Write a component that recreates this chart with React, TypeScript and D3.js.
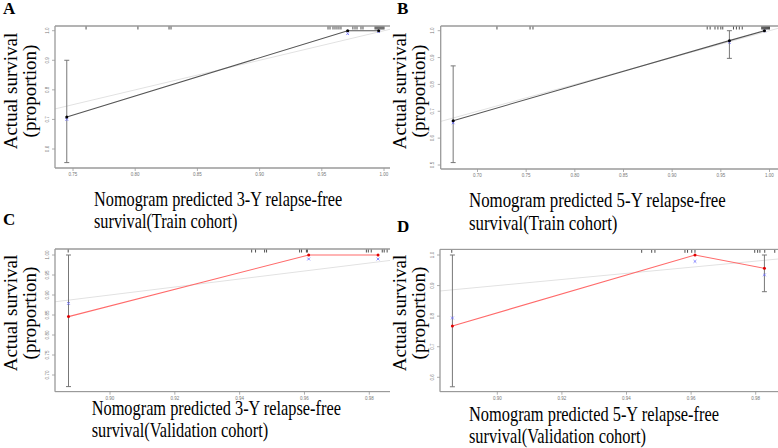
import React from "react";
import * as d3 from "d3";

// ---------- Data ----------
// Panel A: 3-Y, Train cohort
const aPred = [0.745, 0.9708, 0.9957];
const aObs = [0.708, 1.0, 1.0];
const aCorr = [0.7, 0.99, 0.997];
const aLower = [0.554, 1.0, 1.0];
const aUpper = [0.9, 1.0, 1.0];
const aRug = [0.7605, 0.8022, 0.8272, 0.8288, 0.955, 0.9566, 0.959, 0.9606, 0.9622, 0.9638, 0.9654, 0.975, 0.9767, 0.9783, 0.9815, 0.9831, 0.9928, 0.9936, 0.9944, 0.9952, 0.996, 0.9968, 0.9976, 0.9984, 0.9992, 1.0];
const aXTicks = [0.75, 0.8, 0.85, 0.9, 0.95, 1.0];
const aYTicks = [0.6, 0.7, 0.8, 0.9, 1.0];

// Panel B: 5-Y, Train cohort
const bPred = [0.675, 0.9588, 0.9948];
const bObs = [0.665, 0.963, 1.0];
const bCorr = [0.657, 0.957, 0.999];
const bLower = [0.509, 0.897, 1.0];
const bUpper = [0.869, 1.0, 1.0];
const bRug = [0.72, 0.754, 0.757, 0.936, 0.939, 0.944, 0.947, 0.95, 0.952, 0.963, 0.966, 0.969, 0.972, 0.992, 0.993, 0.994, 0.995, 0.996, 0.997, 0.998, 0.999, 1.0];
const bXTicks = [0.7, 0.75, 0.8, 0.85, 0.9, 0.95, 1.0];
const bYTicks = [0.5, 0.6, 0.7, 0.8, 0.9, 1.0];

// Panel C: 3-Y, Validation cohort
const cPred = [0.8872, 0.9613, 0.9827];
const cObs = [0.846, 1.0, 1.0];
const cCorr = [0.879, 0.99, 0.99];
const cLower = [0.671, 1.0, 1.0];
const cUpper = [1.0, 1.0, 1.0];
const cRug = [0.8871, 0.9437, 0.9449, 0.9477, 0.9483, 0.9585, 0.9591, 0.9606, 0.9609, 0.9791, 0.9797, 0.9806, 0.984, 0.9846, 0.9855];
const cXTicks = [0.9, 0.92, 0.94, 0.96, 0.98];
const cYTicks = [0.7, 0.75, 0.8, 0.85, 0.9, 0.95, 1.0];

// Panel D: 5-Y, Validation cohort
const dPred = [0.8861, 0.9612, 0.9827];
const dObs = [0.768, 1.0, 0.9565];
const dCorr = [0.794, 0.979, 0.935];
const dLower = [0.569, 1.0, 0.88];
const dUpper = [1.0, 1.0, 1.0];
const dRug = [0.8859, 0.9447, 0.9478, 0.9488, 0.9581, 0.9589, 0.9602, 0.9612, 0.9797, 0.9806, 0.9813, 0.9828, 0.9859];
const dXTicks = [0.9, 0.92, 0.94, 0.96, 0.98];
const dYTicks = [0.6, 0.7, 0.8, 0.9, 1.0];

const panelLetters = ["A", "B", "C", "D"];
const xTitleLine1 = ["Nomogram predicted 3-Y relapse-free", "Nomogram predicted 5-Y relapse-free", "Nomogram predicted 3-Y relapse-free", "Nomogram predicted 5-Y relapse-free"];
const xTitleLine2 = ["survival(Train cohort)", "survival(Train cohort)", "survival(Validation cohort)", "survival(Validation cohort)"];
const yTitleLine1 = "Actual survival";
const yTitleLine2 = "(proportion)";

// ---------- Layout ----------
type Layout = {
  left: number; top: number; bottom: number; clipRight: number;
  xPx: [number, number]; yPx: [number, number];
  letterX: number; letterY: number;
  titleX: number; titleY: number; titleScale: number;
  yTitleX: number; yTitleCy: number;
  lineColor: string; pointColor: string;
};

const layouts: Layout[] = [
  { left: 55, top: 26, bottom: 168, clipRight: 390, xPx: [73, 384], yPx: [149, 30.7], letterX: 3, letterY: 14, titleX: 94, titleY: 206, titleScale: 0.814, yTitleX: 17, yTitleCy: 91, lineColor: "#555", pointColor: "#000" },
  { left: 440.7, top: 26, bottom: 169, clipRight: 778, xPx: [477.5, 769.5], yPx: [165, 30.7], letterX: 397, letterY: 14, titleX: 469, titleY: 207.3, titleScale: 0.842, yTitleX: 406, yTitleCy: 91, lineColor: "#555", pointColor: "#000" },
  { left: 55, top: 249, bottom: 391.7, clipRight: 390, xPx: [110, 369.3], yPx: [375, 255], letterX: 3, letterY: 225, titleX: 91.7, titleY: 415, titleScale: 0.817, yTitleX: 17, yTitleCy: 313, lineColor: "#ff6b6b", pointColor: "#e00000" },
  { left: 440, top: 249.3, bottom: 391.7, clipRight: 778, xPx: [497.3, 755.7], yPx: [377.3, 255], letterX: 397, letterY: 232, titleX: 469, titleY: 421, titleScale: 0.82, yTitleX: 406, yTitleCy: 313, lineColor: "#ff6b6b", pointColor: "#e00000" },
];

const panelData = [
  { pred: aPred, obs: aObs, corr: aCorr, lower: aLower, upper: aUpper, rug: aRug, xTicks: aXTicks, yTicks: aYTicks, xFmt: ".2f", yFmt: ".1f" },
  { pred: bPred, obs: bObs, corr: bCorr, lower: bLower, upper: bUpper, rug: bRug, xTicks: bXTicks, yTicks: bYTicks, xFmt: ".2f", yFmt: ".1f" },
  { pred: cPred, obs: cObs, corr: cCorr, lower: cLower, upper: cUpper, rug: cRug, xTicks: cXTicks, yTicks: cYTicks, xFmt: ".2f", yFmt: ".2f" },
  { pred: dPred, obs: dObs, corr: dCorr, lower: dLower, upper: dUpper, rug: dRug, xTicks: dXTicks, yTicks: dYTicks, xFmt: ".2f", yFmt: ".1f" },
];

const SERIF = "'Liberation Serif', 'Times New Roman', 'DejaVu Serif', serif";
const SANS = "'Liberation Sans', Arial, sans-serif";

function Panel({ i }: { i: number }) {
  const L = layouts[i];
  const D = panelData[i];
  const x = d3.scaleLinear().domain([D.xTicks[0], D.xTicks[D.xTicks.length - 1]]).range(L.xPx);
  const y = d3.scaleLinear().domain([D.yTicks[0], D.yTicks[D.yTicks.length - 1]]).range(L.yPx);
  const xf = d3.format(D.xFmt);
  const yf = d3.format(D.yFmt);
  const clipId = `clip${i}`;
  const right = L.clipRight + 20;

  const obsLine = d3.line<number>().x((_, k) => x(D.pred[k])).y((v) => y(v))(D.obs) || "";
  const xLo = x.invert(L.left);
  const xHi = x.invert(right);
  const ideal = d3.line<number>().x((v) => x(v)).y((v) => y(v))([xLo, xHi]) || "";

  return (
    <g>
      <defs>
        <clipPath id={clipId}>
          <rect x={L.left - 0.5} y={L.top - 1} width={L.clipRight - L.left + 0.5} height={L.bottom - L.top + 2} />
        </clipPath>
      </defs>
      <g clipPath={`url(#${clipId})`}>
        <path d={ideal} stroke="#e2e2e2" strokeWidth={1} fill="none" />
        {D.pred.map((p, k) =>
          D.upper[k] - D.lower[k] > 0.001 ? (
            <g key={`e${k}`} stroke="#777" strokeWidth={1}>
              <line x1={x(p)} x2={x(p)} y1={y(D.upper[k])} y2={y(D.lower[k])} />
              <line x1={x(p) - 2.5} x2={x(p) + 2.5} y1={y(D.upper[k])} y2={y(D.upper[k])} />
              <line x1={x(p) - 2.5} x2={x(p) + 2.5} y1={y(D.lower[k])} y2={y(D.lower[k])} />
            </g>
          ) : null
        )}
        <path d={obsLine} stroke={L.lineColor} strokeWidth={1.1} fill="none" />
        {D.pred.map((p, k) => (
          <g key={`c${k}`} stroke="#6b6bff" strokeWidth={0.8}>
            <line x1={x(p) - 1.4} x2={x(p) + 1.4} y1={y(D.corr[k]) - 1.4} y2={y(D.corr[k]) + 1.4} />
            <line x1={x(p) - 1.4} x2={x(p) + 1.4} y1={y(D.corr[k]) + 1.4} y2={y(D.corr[k]) - 1.4} />
          </g>
        ))}
        {D.pred.map((p, k) => (
          <circle key={`p${k}`} cx={x(p)} cy={y(D.obs[k])} r={1.5} fill={L.pointColor} />
        ))}
        {D.rug.map((r, k) => (
          <line key={`r${k}`} x1={x(r)} x2={x(r)} y1={L.top} y2={L.top + 3.5} stroke="#222" strokeWidth={0.8} />
        ))}
        <line x1={L.left} x2={right} y1={L.top} y2={L.top} stroke="#9a9a9a" strokeWidth={1.3} />
        <line x1={L.left} x2={right} y1={L.bottom} y2={L.bottom} stroke="#9a9a9a" strokeWidth={1.3} />
      </g>
      <line x1={L.left} x2={L.left} y1={L.top} y2={L.bottom} stroke="#9a9a9a" strokeWidth={1.3} />
      {D.yTicks.map((t) => (
        <g key={`yt${t}`}>
          <line x1={L.left - 3} x2={L.left} y1={y(t)} y2={y(t)} stroke="#999" strokeWidth={0.8} />
          <text transform={`translate(${L.left - 6.5},${y(t)}) rotate(-90)`} textAnchor="middle" fontSize={4.5} fill="#777" fontFamily={SANS}>{yf(t)}</text>
        </g>
      ))}
      {D.xTicks.map((t) => (
        <g key={`xt${t}`}>
          <line x1={x(t)} x2={x(t)} y1={L.bottom} y2={L.bottom + 3} stroke="#999" strokeWidth={0.8} />
          <text x={x(t)} y={L.bottom + 8} textAnchor="middle" fontSize={4.5} fill="#777" fontFamily={SANS}>{xf(t)}</text>
        </g>
      ))}
      <text x={L.letterX} y={L.letterY} fontSize={17} fontWeight="bold" fontFamily={SERIF} fill="#000">{panelLetters[i]}</text>
      <g transform={`translate(${L.titleX},${L.titleY}) scale(${L.titleScale},1)`} fontFamily={SERIF} fontSize={20} fill="#000">
        <text x={0} y={0}>{xTitleLine1[i]}</text>
        <text x={0} y={22.3}>{xTitleLine2[i]}</text>
      </g>
      <g fontFamily={SERIF} fontSize={19} fill="#000" textAnchor="middle">
        <text transform={`translate(${L.yTitleX},${L.yTitleCy}) rotate(-90)`}>{yTitleLine1}</text>
        <text transform={`translate(${L.yTitleX + 19},${L.yTitleCy}) rotate(-90)`}>{yTitleLine2}</text>
      </g>
    </g>
  );
}

export default function App() {
  return (
    <svg width={778} height={448} viewBox="0 0 778 448" style={{ position: "absolute", left: 0, top: 0, background: "#fff" }}>
      <rect x={0} y={0} width={778} height={448} fill="#fff" />
      {[0, 1, 2, 3].map((i) => (
        <Panel key={i} i={i} />
      ))}
    </svg>
  );
}
